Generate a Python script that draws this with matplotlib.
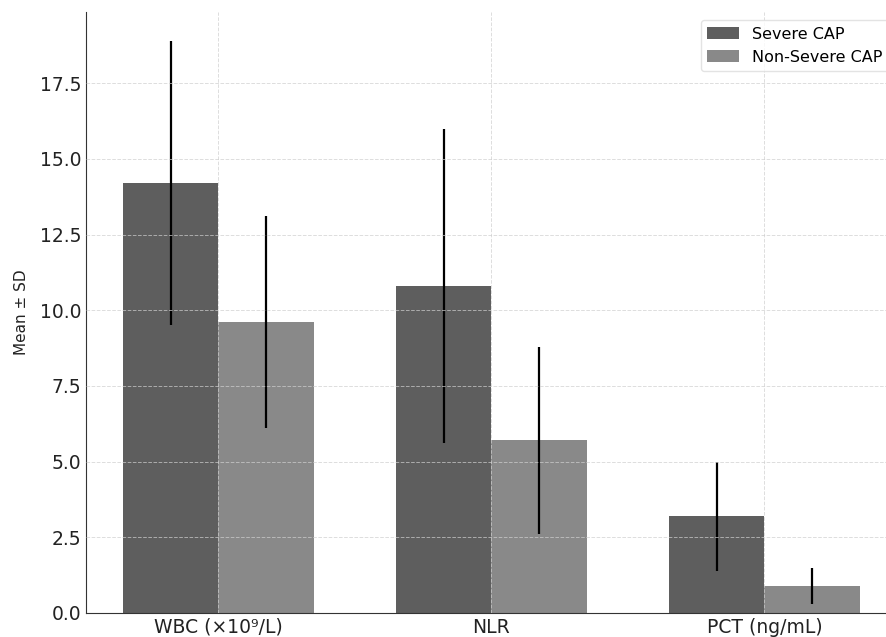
import numpy as np
from matplotlib import pyplot as plt

categories = ["WBC (×10⁹/L)", "NLR", "PCT (ng/mL)"]
severe_mean = [14.2, 10.8, 3.2]
severe_sd = [4.7, 5.2, 1.8]
nonsevere_mean = [9.6, 5.7, 0.9]
nonsevere_sd = [3.5, 3.1, 0.6]

x = np.arange(len(categories))
width = 0.35

fig = plt.figure(figsize=(8.87, 6.37), dpi=100)
ax = fig.add_axes([0.097, 0.0377, 0.914, 0.943])

ax.bar(x - width / 2, severe_mean, width, yerr=severe_sd, color="#5e5e5e",
       label="Severe CAP", error_kw=dict(ecolor="black", elinewidth=1.6, capsize=0))
ax.bar(x + width / 2, nonsevere_mean, width, yerr=nonsevere_sd, color="#898989",
       label="Non-Severe CAP", error_kw=dict(ecolor="black", elinewidth=1.6, capsize=0))

ax.set_xticks(x)
ax.set_xticklabels(categories)
ax.set_ylabel("Mean ± SD", fontsize=11, labelpad=8, color="#222222")
ax.tick_params(axis="both", labelsize=13.5, length=0, labelcolor="#222222")
ax.grid(True, linestyle="--", color="#cfcfcf", linewidth=0.7, alpha=0.7)
ax.set_axisbelow(False)
for s in ["top", "right"]:
    ax.spines[s].set_visible(False)
for s in ["left", "bottom"]:
    ax.spines[s].set_color("#333333")
ax.legend(loc="upper right", fontsize=11.5, frameon=True, edgecolor="#dddddd")

plt.savefig("out.png")
